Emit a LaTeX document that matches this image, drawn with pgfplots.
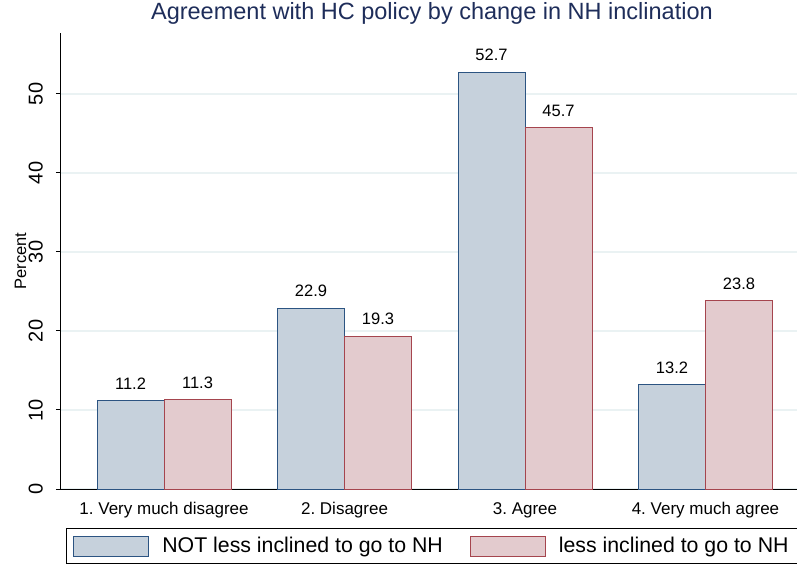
\documentclass[border=0pt]{standalone}
\usepackage{pgfplots}
\pgfplotsset{compat=1.18}
\usepackage{fontspec}
\setmainfont{Liberation Sans}
\frenchspacing
\definecolor{bfill}{RGB}{198,209,220}
\definecolor{bedge}{RGB}{44,84,130}
\definecolor{rfill}{RGB}{227,203,206}
\definecolor{redge}{RGB}{165,69,78}
\definecolor{titlec}{RGB}{30,45,90}
\definecolor{gridc}{RGB}{234,242,243}
\pgfkeys{/pgf/number format/assume math mode=true}
\pgfplotsset{mylegimg/.style={legend image code/.code={\draw[##1] (0bp,-10bp) rectangle (75bp,10bp);}}}
\begin{document}
\begin{tikzpicture}
\useasboundingbox (-61bp,-78bp) rectangle (736bp,489bp);
\begin{axis}[
  at={(0,0)}, anchor=south west,
  scale only axis, width=736bp, height=456bp,
  ybar=0pt, bar width=67bp,
  xmin=-0.571, xmax=3.507, ymin=0, ymax=57.72,
  enlargelimits=false,
  axis lines*=left,
  axis line style={line width=1bp, black},
  xtick={0,1,2,3},
  xticklabels={1. Very much disagree, 2. Disagree, 3. Agree, 4. Very much agree},
  xtick style={draw=none},
  x tick label style={font=\fontsize{17bp}{20bp}\selectfont, anchor=north, inner sep=0pt, yshift=-8bp},
  ytick={0,10,20,30,40,50},
  y tick label style={font=\fontsize{20bp}{24bp}\selectfont, rotate=90, anchor=south, inner sep=0pt, yshift=13bp},
  ytick style={line width=1bp, black},
  major tick length=5bp, tick align=outside,
  ymajorgrids, grid style={color=gridc, line width=1.2bp},
  ylabel={Percent},
  ylabel style={at={(axis description cs:-0.055,0.5)}, anchor=center, rotate=0, inner sep=0pt, font=\fontsize{16.5bp}{20bp}\selectfont},
  title={Agreement with HC policy by change in NH inclination},
  title style={at={(axis description cs:0.504,1.0175)}, anchor=base, font=\fontsize{23.5bp}{28bp}\selectfont, color=titlec, inner sep=0pt},
  nodes near coords={\pgfmathprintnumber[fixed,precision=1,fixed zerofill]{\pgfplotspointmeta}},
  every node near coord/.append style={font=\fontsize{16.5bp}{20bp}\selectfont, black, inner sep=0pt, yshift=11bp},
  legend style={at={(axis description cs:0.504,-0.125)}, anchor=center, legend columns=2, draw=black, line width=1bp,
    fill=white, inner xsep=7bp, inner ysep=7bp,
    font=\fontsize{21.3bp}{25bp}\selectfont,
    /tikz/every odd column/.append style={column sep=11bp},
    /tikz/every even column/.append style={column sep=25bp}},
  legend cell align=left,
]
\addplot[draw=bedge, fill=bfill, line width=1bp, mylegimg]
  coordinates {(0,11.2) (1,22.9) (2,52.7) (3,13.2)};
\addlegendentry{NOT less inclined to go to NH}
\addplot[draw=redge, fill=rfill, line width=1bp, mylegimg]
  coordinates {(0,11.3) (1,19.3) (2,45.7) (3,23.8)};
\addlegendentry{less inclined to go to NH}
\end{axis}
\end{tikzpicture}
\end{document}
